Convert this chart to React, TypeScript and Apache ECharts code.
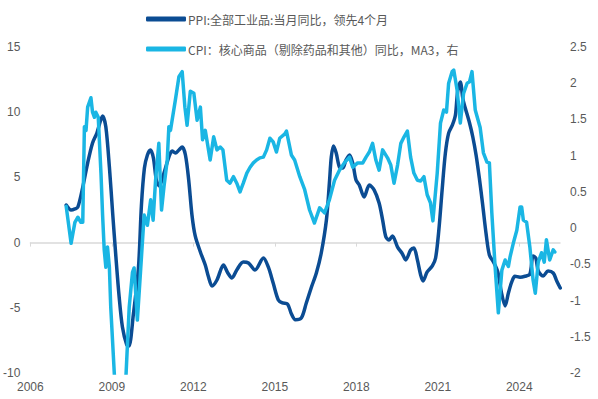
import React, { useEffect, useRef } from "react";
import * as echarts from "echarts";

const ppiName = "PPI:全部工业品:当月同比，领先4个月";
const cpiName = "CPI：核心商品（剔除药品和其他）同比，MA3，右";

const xTickYears = [2006, 2009, 2012, 2015, 2018, 2021, 2024];

const ppiYears = [
  2007.32, 2007.5, 2007.64, 2007.75, 2007.93, 2008.11, 2008.29, 2008.45, 2008.58, 2008.66,
  2008.78, 2008.91, 2009.03, 2009.15, 2009.27, 2009.39, 2009.55, 2009.63, 2009.79, 2009.98,
  2010.09, 2010.2, 2010.31, 2010.42, 2010.53, 2010.64, 2010.75, 2010.92, 2011.1, 2011.22,
  2011.34, 2011.47, 2011.59, 2011.71, 2011.83, 2011.95, 2012.07, 2012.26, 2012.44, 2012.56,
  2012.69, 2012.87, 2013.11, 2013.27, 2013.42, 2013.6, 2013.84, 2014.03, 2014.27, 2014.58,
  2014.76, 2014.94, 2015.13, 2015.28, 2015.47, 2015.61, 2015.76, 2015.98, 2016.16, 2016.35,
  2016.53, 2016.71, 2016.9, 2017.01, 2017.08, 2017.16, 2017.26, 2017.38, 2017.5, 2017.62,
  2017.75, 2017.87, 2017.99, 2018.11, 2018.29, 2018.48, 2018.66, 2018.84, 2018.97, 2019.09,
  2019.21, 2019.33, 2019.52, 2019.7, 2019.82, 2020.0, 2020.12, 2020.25, 2020.37, 2020.46,
  2020.61, 2020.8, 2020.92, 2021.04, 2021.16, 2021.28, 2021.4, 2021.54, 2021.65, 2021.73,
  2021.83, 2021.92, 2021.98, 2022.17, 2022.29, 2022.41, 2022.53, 2022.65, 2022.78, 2022.9,
  2023.05, 2023.21, 2023.34, 2023.48, 2023.6, 2023.72, 2023.84, 2024.03, 2024.21, 2024.39,
  2024.51, 2024.61, 2024.7, 2024.88, 2025.06, 2025.25, 2025.38, 2025.51,
];
const ppiValues = [
  2.88, 2.5, 2.58, 2.73, 4.26, 6.1, 7.64, 8.4, 9.33, 9.71,
  8.87, 5.8, 2.27, -1.1, -4.17, -6.47, -7.85, -7.93, -5.55, -1.94,
  2.88, 5.72, 6.72, 7.1, 6.49, 4.8, 4.34, 5.34, 6.56, 7.02,
  6.87, 7.1, 7.33, 6.72, 4.8, 2.12, 0.51, -0.72, -1.72, -2.64,
  -3.33, -2.87, -1.72, -2.33, -2.71, -2.1, -1.49, -1.56, -2.1, -1.18,
  -1.87, -3.1, -4.4, -4.63, -4.71, -5.46, -5.92, -5.77, -4.63, -3.41,
  -2.33, -0.8, 1.73, 4.57, 6.56, 7.41, 6.87, 5.8, 5.72, 6.33,
  6.72, 6.1, 4.8, 4.42, 3.5, 4.42, 4.03, 3.04, 1.73, 0.43,
  0.2, 0.51, -0.34, -0.87, -1.33, -0.57, -0.41, -1.33, -2.48, -2.94,
  -2.25, -1.79, -1.18, 0.97, 4.03, 6.86, 8.4, 9.02, 9.78, 11.55,
  12.31, 11.09, 10.55, 9.17, 8.1, 6.72, 4.95, 2.96, 0.66, -0.95,
  -1.49, -2.25, -3.79, -4.86, -3.87, -3.04, -2.58, -2.65, -2.58, -2.42,
  -1.02, -1.18, -2.18, -2.56, -2.18, -2.33, -2.94, -3.48,
];

const cpiYears = [
  2007.32, 2007.5, 2007.64, 2007.75, 2007.86, 2007.93, 2007.99, 2008.05, 2008.11, 2008.23,
  2008.29, 2008.36, 2008.41, 2008.5, 2008.6, 2008.66, 2008.72, 2008.78, 2008.84, 2008.91,
  2008.96, 2009.09, 2009.25, 2009.4, 2009.64, 2009.76, 2009.82, 2009.94, 2010.06, 2010.19,
  2010.31, 2010.43, 2010.52, 2010.61, 2010.73, 2010.83, 2010.92, 2011.04, 2011.1, 2011.16,
  2011.34, 2011.47, 2011.59, 2011.69, 2011.77, 2011.89, 2012.02, 2012.14, 2012.26, 2012.34,
  2012.44, 2012.62, 2012.75, 2012.87, 2012.99, 2013.09, 2013.23, 2013.35, 2013.48, 2013.6,
  2013.72, 2013.84, 2013.97, 2014.09, 2014.21, 2014.33, 2014.45, 2014.58, 2014.7, 2014.82,
  2014.94, 2015.06, 2015.18, 2015.37, 2015.43, 2015.61, 2015.73, 2015.92, 2016.1, 2016.28,
  2016.46, 2016.65, 2016.83, 2017.01, 2017.2, 2017.38, 2017.56, 2017.75, 2017.87, 2018.05,
  2018.24, 2018.36, 2018.48, 2018.6, 2018.72, 2018.84, 2018.97, 2019.15, 2019.27, 2019.39,
  2019.52, 2019.64, 2019.76, 2019.88, 2020.0, 2020.12, 2020.25, 2020.37, 2020.49, 2020.61,
  2020.73, 2020.82, 2020.98, 2021.1, 2021.22, 2021.32, 2021.4, 2021.53, 2021.59, 2021.71,
  2021.83, 2021.95, 2022.08, 2022.17, 2022.26, 2022.38, 2022.56, 2022.68, 2022.81, 2022.9,
  2022.99, 2023.11, 2023.23, 2023.36, 2023.48, 2023.6, 2023.66, 2023.78, 2023.91, 2024.03,
  2024.09, 2024.15, 2024.27, 2024.39, 2024.51, 2024.59, 2024.7, 2024.82, 2024.92, 2025.0,
  2025.12, 2025.25, 2025.31,
];
const cpiValues = [
  0.3, -0.21, 0.08, 0.15, 0.08, 0.08, 1.4, 1.35, 1.67, 1.8,
  1.6, 1.53, 1.6, 1.53, 0.76, 0.18, -0.3, -0.54, -0.26, -0.54,
  -1.09, -2.0, -3.0, -3.0, -1.09, -0.61, -0.55, -1.27, -0.58, 0.18,
  0.04, 0.39, 0.11, 0.66, 1.17, 0.25, 0.57, 0.94, 1.4, 1.35,
  1.77, 2.09, 2.16, 1.67, 1.42, 1.89, 1.86, 1.49, 1.67, 1.22,
  1.35, 0.94, 1.26, 1.08, 1.12, 1.08, 0.66, 0.62, 0.71, 0.62,
  0.5, 0.62, 0.76, 0.84, 0.9, 0.94, 0.97, 0.98, 1.08, 1.24,
  1.19, 1.05, 1.24, 1.3, 1.34, 1.01, 0.94, 0.71, 0.53, 0.25,
  0.07, 0.28, 0.21, 0.39, 0.66, 0.8, 0.9, 0.98, 0.84, 0.9,
  0.9, 0.98, 1.05, 1.17, 0.94, 0.8, 1.08, 0.97, 0.87, 0.62,
  0.87, 1.17, 1.26, 1.34, 0.98, 0.76, 0.66, 0.65, 0.71, 0.46,
  0.35, 0.1, 0.76, 1.45, 1.63, 1.6, 2.0, 2.16, 2.18, 1.91,
  1.45, 1.86, 2.0, 2.02, 2.16, 1.63, 1.39, 1.04, 0.91, 0.9,
  0.21, -0.53, -1.17, -0.58, -0.44, -0.53, -0.4, -0.21, -0.03, 0.29,
  0.29, 0.11, 0.08, -0.26, -0.72, -0.9, -0.47, -0.34, -0.47, -0.16,
  -0.44, -0.3, -0.33,
];

const ppiColor = "#0b4c93";
const cpiColor = "#1ab6e4";
const textColor = "#595959";
const axisColor = "#d9d9d9";
const fontFamily = "'Liberation Sans', 'Noto Sans CJK SC', sans-serif";

export default function App() {
  const ref = useRef<HTMLDivElement>(null);

  useEffect(() => {
    if (!ref.current) return;
    const chart = echarts.init(ref.current, undefined, { renderer: "svg" });
    const ppiData = ppiYears.map((x, i) => [x, ppiValues[i]]);
    const cpiData = cpiYears.map((x, i) => [x, cpiValues[i]]);
    chart.setOption({
      animation: false,
      backgroundColor: "#ffffff",
      textStyle: { fontFamily },
      grid: { left: 28, right: 38, top: 47, bottom: 26, containLabel: false },
      legend: {
        orient: "vertical",
        left: 141,
        top: 8,
        itemGap: 18,
        itemWidth: 40,
        itemHeight: 5,
        icon: "roundRect",
        textStyle: { color: textColor, fontSize: 12, fontFamily: "'Noto Sans CJK SC', sans-serif", padding: [0, 0, 0, -3] },
        data: [ppiName, cpiName],
      },
      xAxis: {
        type: "value",
        min: 2006,
        max: 2025.5,
        interval: 3,
        axisLine: { show: true, lineStyle: { color: axisColor, width: 1.5 } },
        axisTick: { show: true, length: 4, lineStyle: { color: axisColor }, customValues: xTickYears },
        axisLabel: {
          color: textColor,
          fontSize: 12,
          margin: 8,
          customValues: xTickYears,
          formatter: (v: number) => String(v),
        },
        splitLine: { show: false },
      },
      yAxis: [
        {
          type: "value",
          min: -10,
          max: 15,
          interval: 5,
          axisLine: { show: false },
          axisTick: { show: false },
          splitLine: { show: false },
          axisLabel: { color: textColor, fontSize: 12, margin: 10 },
        },
        {
          type: "value",
          min: -2,
          max: 2.5,
          interval: 0.5,
          position: "right",
          axisLine: { show: false },
          axisTick: { show: false },
          splitLine: { show: false },
          axisLabel: { color: textColor, fontSize: 12, margin: 10 },
        },
      ],
      series: [
        {
          name: ppiName,
          type: "line",
          yAxisIndex: 0,
          data: ppiData,
          showSymbol: false,
          smooth: 0.3,
          clip: true,
          lineStyle: { color: ppiColor, width: 3.5, cap: "round", join: "round" },
          itemStyle: { color: ppiColor },
        },
        {
          name: cpiName,
          type: "line",
          yAxisIndex: 1,
          data: cpiData,
          showSymbol: false,
          clip: true,
          lineStyle: { color: cpiColor, width: 3.5, cap: "round", join: "round" },
          itemStyle: { color: cpiColor },
        },
      ],
    });
    return () => chart.dispose();
  }, []);

  return <div ref={ref} style={{ width: 598, height: 399, position: "absolute", left: 0, top: 0 }} />;
}
